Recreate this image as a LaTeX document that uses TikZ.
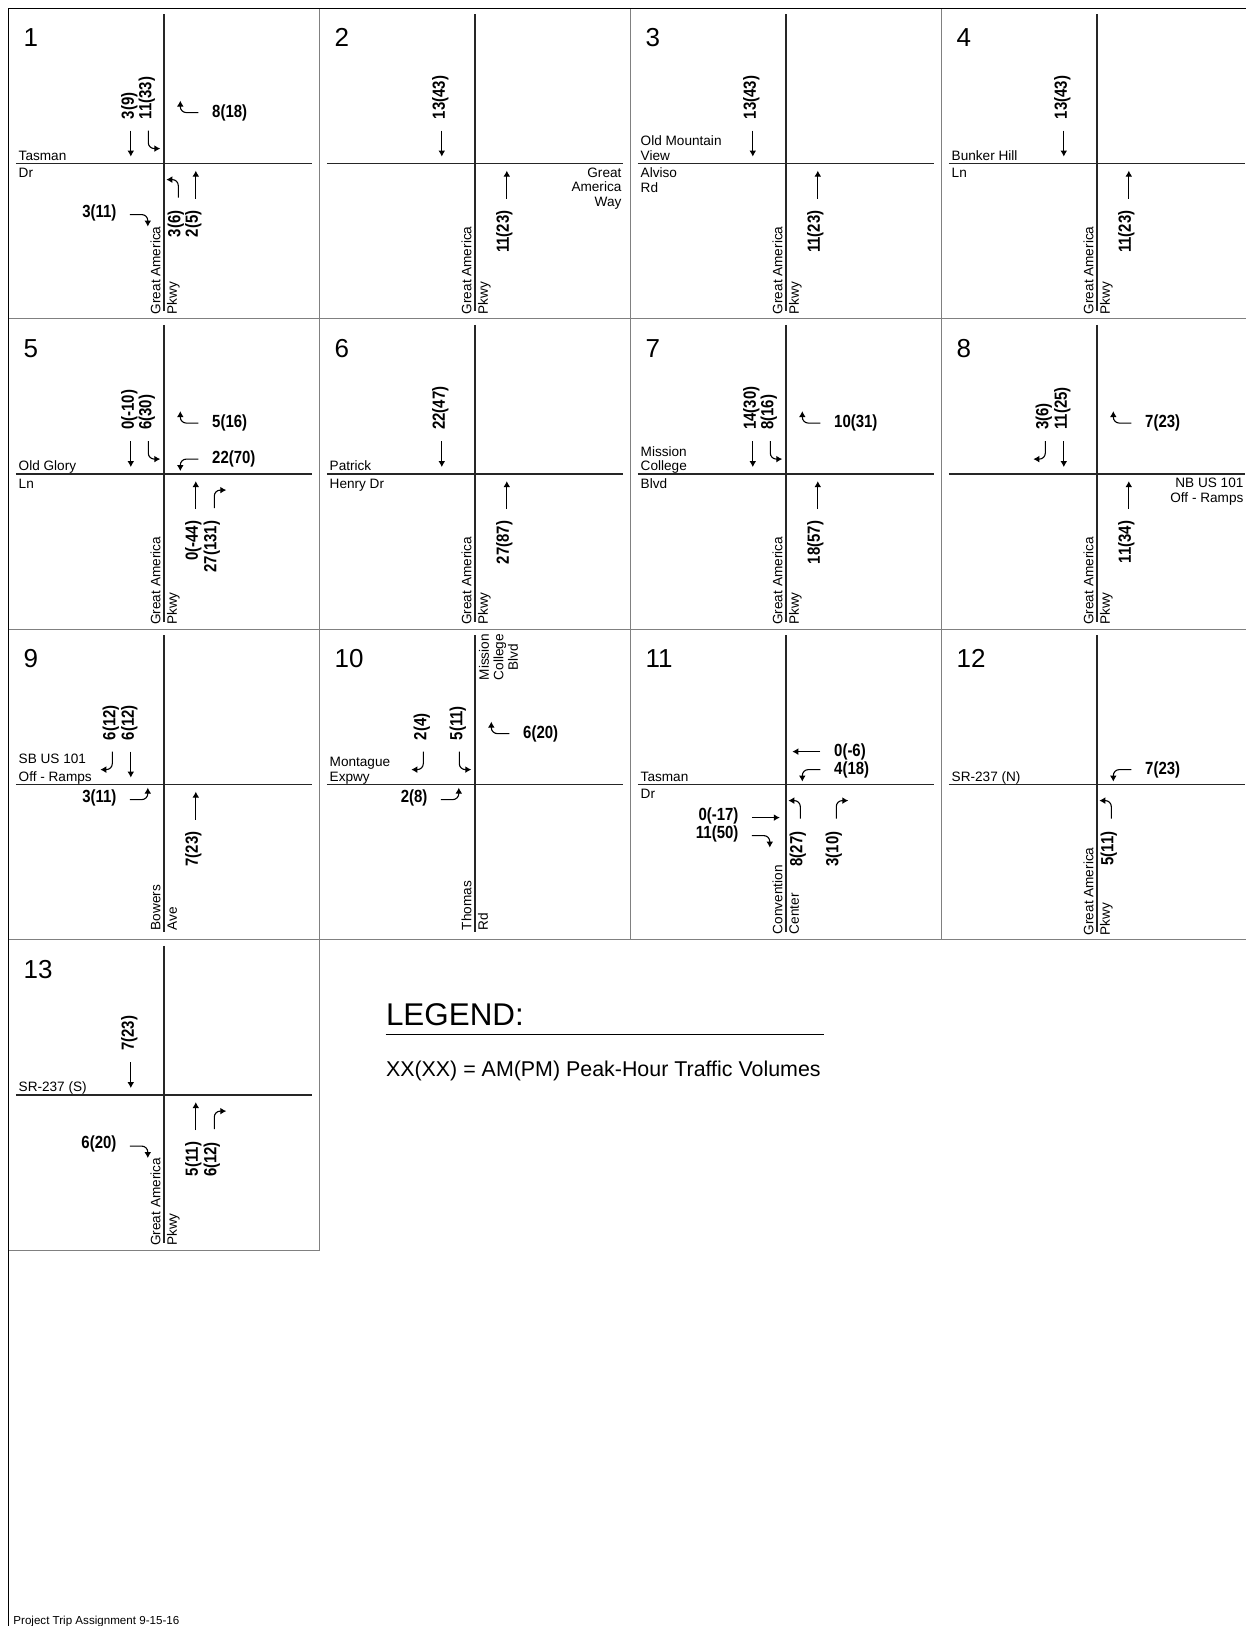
\documentclass[tikz,border=0pt]{standalone}
\usepackage{fontspec}
\setmainfont{Liberation Sans}
\newfontfamily\volfont[FakeStretch=0.85]{Liberation Sans}
\usetikzlibrary{arrows.meta,calc}

\tikzset{
  road/.style={line width=0.7pt, black!85},
  panel/.style={line width=0.6pt, black!50},
  mv/.style={line width=0.55pt, rounded corners=3pt, -{Latex[length=3pt,width=3.4pt]}},
  vol/.style={inner sep=0pt, font=\volfont\fontsize{8.8pt}{10pt}\selectfont\bfseries},
  rvol/.style={vol, rotate=90},
  lab/.style={inner sep=0pt, font=\fontsize{6.8pt}{7.25pt}\selectfont},
  num/.style={inner sep=0pt, anchor=base west, font=\fontsize{13pt}{15pt}\selectfont},
}

% street names (inside a scope shifted to the intersection)
\newcommand\nlab[2]{\node[lab, anchor=base west] (n#1) at (-145.5,-3.5)
  {\begin{tabular}[b]{@{}l@{}}#2\end{tabular}};}
\newcommand\slab[2]{\node[lab, anchor=base west] (s#1) at (-145.5,14) 
  {\begin{tabular}[t]{@{}l@{}}#2\end{tabular}};}
\newcommand\elab[2]{\node[lab, anchor=base east] (e#1) at (147,13.5)
  {\begin{tabular}[t]{@{}r@{}}#2\end{tabular}};}
\newcommand\vlab[4][151]{\node[lab, rotate=90, anchor=base west] (w#2) at (-3.5,#1) {#3};
  \node[lab, rotate=90, anchor=base west] (p#2) at (13,#1) {#4};}

% southbound
\newcommand\sbR[2]{\draw[mv] (-51.5,-33) -- ++(0,18) -- ++(-12,0);
  \node[rvol, anchor=west] (v#1sbR) at (-53,-44) {#2};}
\newcommand\sbT[2]{\draw[mv] (-33,-33) -- (-33,-7);
  \node[rvol, anchor=west] (v#1sbT) at (-34.5,-44) {#2};}
\newcommand\sbL[2]{\draw[mv] (-15.5,-33) -- ++(0,18) -- ++(12,0);
  \node[rvol, anchor=west] (v#1sbL) at (-17,-44) {#2};}
% westbound
\newcommand\wbR[2]{\draw[mv] (34.5,-51) -- ++(-18,0) -- ++(0,-12);
  \node[vol, anchor=west] (v#1wbR) at (48,-51) {#2};}
\newcommand\wbT[2]{\draw[mv] (34.5,-33) -- (6.5,-33);
  \node[vol, anchor=west] (v#1wbT) at (48,-33) {#2};}
\newcommand\wbL[2]{\draw[mv] (34.5,-15) -- ++(-18,0) -- ++(0,12);
  \node[vol, anchor=west] (v#1wbL) at (48,-15) {#2};}
% northbound
\newcommand\nbL[2]{\draw[mv] (14.5,34) -- ++(0,-18) -- ++(-12,0);
  \node[rvol, anchor=east] (v#1nbL) at (12,46.5) {#2};}
\newcommand\nbT[2]{\draw[mv] (32,35) -- (32,7);
  \node[rvol, anchor=east] (v#1nbT) at (29.5,46.5) {#2};}
\newcommand\nbR[2]{\draw[mv] (50.5,34) -- ++(0,-18) -- ++(12,0);
  \node[rvol, anchor=east] (v#1nbR) at (48,46.5) {#2};}
% eastbound
\newcommand\ebL[2]{\draw[mv] (-34,15) -- ++(18,0) -- ++(0,-12);
  \node[vol, anchor=east] (v#1ebL) at (-47,13) {#2};}
\newcommand\ebT[2]{\draw[mv] (-34,33) -- (-6,33);
  \node[vol, anchor=east] (v#1ebT) at (-47,31) {#2};}
\newcommand\ebR[2]{\draw[mv] (-34,51) -- ++(18,0) -- ++(0,12);
  \node[vol, anchor=east] (v#1ebR) at (-47,49) {#2};}

\begin{document}
\begin{tikzpicture}[x=0.5pt, y=-0.5pt]
    \fill[white] (0,0) rectangle (1246,1626);
    \useasboundingbox (0,0) rectangle (1246,1626);

    \foreach \n in {1,...,13}{
      \pgfmathtruncatemacro\col{mod(\n-1,4)}
      \pgfmathtruncatemacro\row{(\n-1)/4}
      \coordinate (c\n) at (163.8+311*\col, 163.6+310.5*\row);
      \draw[panel] (8.3+311*\col, 8.3+310.5*\row) rectangle ++(311,310.5);
      \draw[road] ($(c\n)+(0,-149.3)$) -- ($(c\n)+(0,147.7)$);
      \draw[road] ($(c\n)+(-148,0)$) -- ($(c\n)+(148.5,0)$);
      \node[num] (num\n) at ($(c\n)+(-140.5,-116.8)$) {\n};
    }
    \draw[line width=0.6pt] (1246,8.3) -- (8.3,8.3) -- (8.3,1626);

    \begin{scope}[shift={(c1)}]
      \nlab{1}{Tasman} \slab{1}{Dr} \vlab{1}{Great America}{Pkwy}
      \sbT{1}{3(9)} \sbL{1}{11(33)} \wbR{1}{8(18)}
      \nbL{1}{3(6)} \nbT{1}{2(5)} \ebR{1}{3(11)}
    \end{scope}
    \begin{scope}[shift={(c2)}]
      \elab{2}{Great\\America\\Way} \vlab{2}{Great America}{Pkwy}
      \sbT{2}{13(43)} \nbT{2}{11(23)}
    \end{scope}
    \begin{scope}[shift={(c3)}]
      \nlab{3}{Old Mountain\\View} \slab{3}{Alviso\\Rd} \vlab{3}{Great America}{Pkwy}
      \sbT{3}{13(43)} \nbT{3}{11(23)}
    \end{scope}
    \begin{scope}[shift={(c4)}]
      \nlab{4}{Bunker Hill} \slab{4}{Ln} \vlab{4}{Great America}{Pkwy}
      \sbT{4}{13(43)} \nbT{4}{11(23)}
    \end{scope}
    \begin{scope}[shift={(c5)}]
      \nlab{5}{Old Glory} \slab{5}{Ln} \vlab{5}{Great America}{Pkwy}
      \sbT{5}{0(-10)} \sbL{5}{6(30)} \wbR{5}{5(16)} \wbL{5}{22(70)}
      \nbT{5}{0(-44)} \nbR{5}{27(131)}
    \end{scope}
    \begin{scope}[shift={(c6)}]
      \nlab{6}{Patrick} \slab{6}{Henry Dr} \vlab{6}{Great America}{Pkwy}
      \sbT{6}{22(47)} \nbT{6}{27(87)}
    \end{scope}
    \begin{scope}[shift={(c7)}]
      \nlab{7}{Mission\\College} \slab{7}{Blvd} \vlab{7}{Great America}{Pkwy}
      \sbT{7}{14(30)} \sbL{7}{8(16)} \wbR{7}{10(31)} \nbT{7}{18(57)}
    \end{scope}
    \begin{scope}[shift={(c8)}]
      \elab{8}{NB US 101\\Off - Ramps} \vlab{8}{Great America}{Pkwy}
      \sbR{8}{3(6)} \sbT{8}{11(25)} \wbR{8}{7(23)} \nbT{8}{11(34)}
    \end{scope}
    \begin{scope}[shift={(c9)}]
      \nlab{9}{SB US 101\\[1.6pt]Off - Ramps} \vlab[146]{9}{Bowers}{Ave}
      \sbR{9}{6(12)} \sbT{9}{6(12)} \ebL{9}{3(11)} \nbT{9}{7(23)}
    \end{scope}
    \begin{scope}[shift={(c10)}]
      \nlab{10}{Montague\\Expwy} \vlab[146]{10}{Thomas}{Rd}
      \node[lab, rotate=90, anchor=base] (p10n) at (14,-127.5)
        {\begin{tabular}[t]{@{}c@{}}Mission\\College\\Blvd\end{tabular}};
      \sbR{10}{2(4)} \sbL{10}{5(11)} \wbR{10}{6(20)} \ebL{10}{2(8)}
    \end{scope}
    \begin{scope}[shift={(c11)}]
      \nlab{11}{Tasman} \slab{11}{Dr} \vlab[150]{11}{Convention}{Center}
      \wbT{11}{0(-6)} \wbL{11}{4(18)} \ebT{11}{0(-17)} \ebR{11}{11(50)}
      \nbL{11}{8(27)} \nbR{11}{3(10)}
    \end{scope}
    \begin{scope}[shift={(c12)}]
      \nlab{12}{SR-237 (N)} \vlab{12}{Great America}{Pkwy}
      \wbL{12}{7(23)} \nbL{12}{5(11)}
    \end{scope}
    \begin{scope}[shift={(c13)}]
      \nlab{13}{SR-237 (S)} \vlab{13}{Great America}{Pkwy}
      \sbT{13}{7(23)} \ebR{13}{6(20)} \nbT{13}{5(11)} \nbR{13}{6(12)}
    \end{scope}

    % legend and footer
    \node[inner sep=0pt, anchor=base west, font=\fontsize{15.7pt}{18pt}\selectfont]
      (legend) at (385.6,1025) {LEGEND:};
    \draw[line width=0.5pt] ($(legend.base west)+(0,9.5)$) -- ++(438.4,0);
    \node[inner sep=0pt, anchor=base west, font=\fontsize{10.7pt}{12pt}\selectfont]
      (key) at (385.6,1076) {XX(XX) = AM(PM) Peak-Hour Traffic Volumes};
    \node[inner sep=0pt, anchor=base west, font=\fontsize{5.8pt}{7pt}\selectfont]
      (footer) at (13,1624) {Project Trip Assignment 9-15-16};
\end{tikzpicture}
\end{document}
